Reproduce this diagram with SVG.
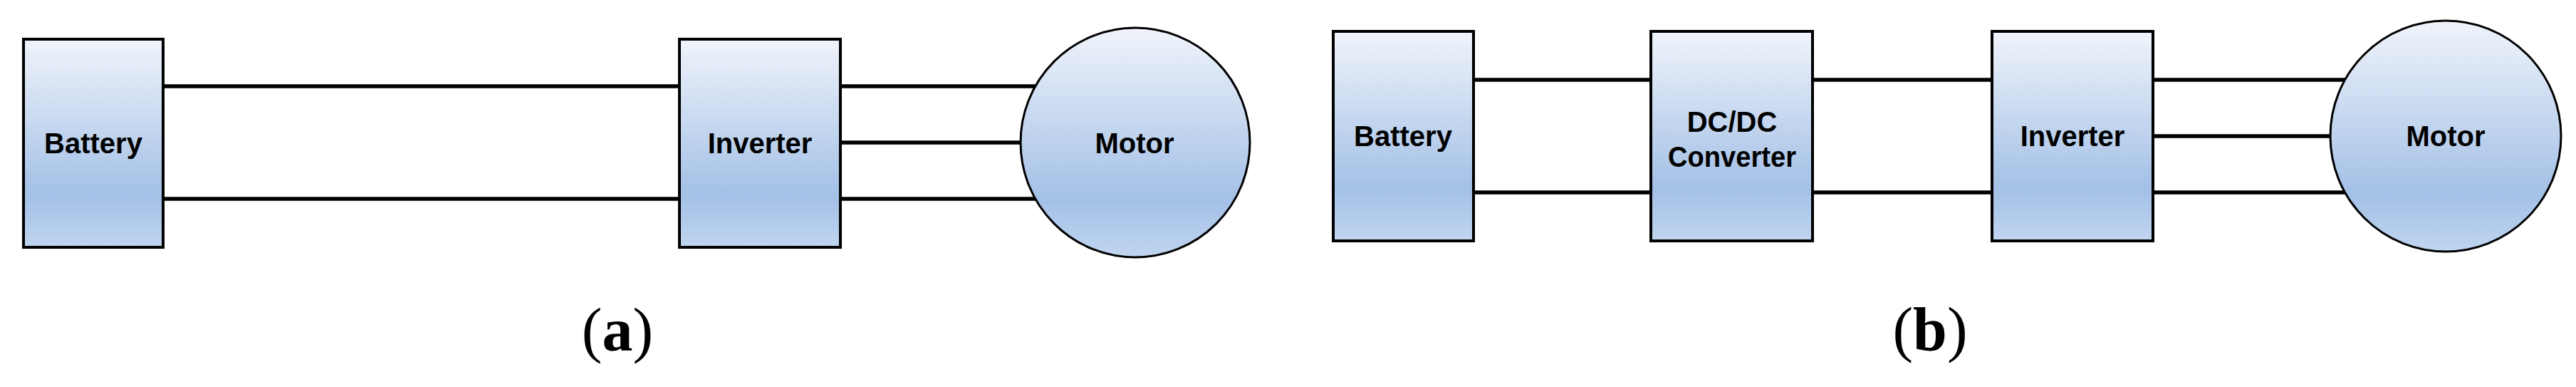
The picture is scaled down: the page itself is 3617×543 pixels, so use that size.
<svg xmlns="http://www.w3.org/2000/svg" width="3617" height="543" viewBox="0 0 3617 543">
<defs>
<linearGradient id="g" x1="0" y1="0" x2="0" y2="1">
<stop offset="0" stop-color="#F0F4FB"/>
<stop offset="0.75" stop-color="#A3C0E6"/>
<stop offset="1" stop-color="#C0D5F0"/>
</linearGradient>
</defs>
<style>
.box{fill:url(#g);stroke:#000;stroke-width:4}
.mot{fill:url(#g);stroke:#000;stroke-width:3}
.wire{stroke:#000;stroke-width:5.5;fill:none}
.lbl{font-family:"Liberation Sans",Arial,sans-serif;font-weight:bold;font-size:40px;text-anchor:middle;fill:#000}
.cap{font-family:"Liberation Serif","Times New Roman",serif;font-weight:normal;font-size:86px;text-anchor:middle;fill:#000}
.cap .b{font-weight:bold}
</style>
<rect width="3617" height="543" fill="#fff"/>
<g id="connectors">
<line class="wire" x1="229" y1="121" x2="954" y2="121"/>
<line class="wire" x1="229" y1="279" x2="954" y2="279"/>
<line class="wire" x1="1180" y1="121" x2="1454" y2="121"/>
<line class="wire" x1="1180" y1="200" x2="1434" y2="200"/>
<line class="wire" x1="1180" y1="279" x2="1454" y2="279"/>
<line class="wire" x1="2069" y1="112" x2="2318" y2="112"/>
<line class="wire" x1="2069" y1="270" x2="2318" y2="270"/>
<line class="wire" x1="2545" y1="112" x2="2797" y2="112"/>
<line class="wire" x1="2545" y1="270" x2="2797" y2="270"/>
<line class="wire" x1="3023" y1="112" x2="3294" y2="112"/>
<line class="wire" x1="3023" y1="191" x2="3273" y2="191"/>
<line class="wire" x1="3023" y1="270" x2="3294" y2="270"/>
</g>
<g id="battery-a">
<rect class="box" x="33" y="55" width="196" height="292"/>
<text class="lbl" x="131" y="215">Battery</text>
</g>
<g id="inverter-a">
<rect class="box" x="954" y="55" width="226" height="292"/>
<text class="lbl" x="1067" y="215">Inverter</text>
</g>
<g id="motor-a">
<circle class="mot" cx="1594" cy="200" r="161"/>
<text class="lbl" x="1593" y="215">Motor</text>
</g>
<g id="battery-b">
<rect class="box" x="1872" y="44" width="197" height="294"/>
<text class="lbl" x="1970" y="205">Battery</text>
</g>
<g id="dcdc-b">
<rect class="box" x="2318" y="44" width="227" height="294"/>
<text class="lbl" x="2432" y="185">DC/DC</text>
<text class="lbl" x="2432" y="234" textLength="180" lengthAdjust="spacingAndGlyphs">Converter</text>
</g>
<g id="inverter-b">
<rect class="box" x="2797" y="44" width="226" height="294"/>
<text class="lbl" x="2910" y="205">Inverter</text>
</g>
<g id="motor-b">
<circle class="mot" cx="3434" cy="191" r="162"/>
<text class="lbl" x="3434" y="205">Motor</text>
</g>
<text class="cap" x="867" y="492">(<tspan class="b">a</tspan>)</text>
<text class="cap" x="2710" y="491">(<tspan class="b">b</tspan>)</text>
</svg>
